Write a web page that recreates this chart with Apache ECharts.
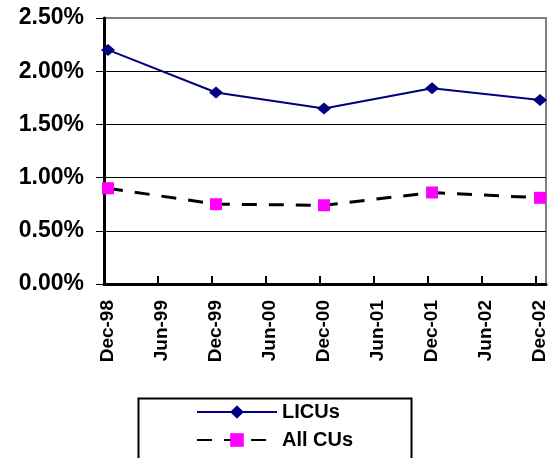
<!DOCTYPE html>
<html>
<head>
<meta charset="utf-8">
<script src="https://cdn.jsdelivr.net/npm/echarts@6/dist/echarts.min.js"></script>
<style>
  html, body { margin: 0; padding: 0; background: #fff; }
  #chart { width: 553px; height: 458px; }
</style>
</head>
<body>
<div id="chart"></div>
<script>
// Half-year tick labels along the time axis
const tickLabels = ['Dec-98', 'Jun-99', 'Dec-99', 'Jun-00', 'Dec-00', 'Jun-01', 'Dec-01', 'Jun-02', 'Dec-02'];
// Observation dates (year-end) and rates in percent
const obsDates = ['Dec-98', 'Dec-99', 'Dec-00', 'Dec-01', 'Dec-02'];
const licuRates = [2.20, 1.80, 1.65, 1.84, 1.73];
const allCuRates = [0.90, 0.75, 0.74, 0.86, 0.81];
// Value-axis ticks (percent)
const yTicks = [0, 0.5, 1.0, 1.5, 2.0, 2.5];

const FONT = 'Arial, "Liberation Sans", sans-serif';
const toPoints = vals => obsDates.map((d, i) => [tickLabels.indexOf(d), vals[i]]);
const tickShift = -0.074;

const chart = echarts.init(document.getElementById('chart'), null, { renderer: 'canvas' });
chart.setOption({
  animation: false,
  backgroundColor: '#fff',
  grid: {
    left: 104, right: 7, top: 18, bottom: 174,
    show: true, borderColor: '#808080', borderWidth: 2, backgroundColor: 'transparent'
  },
  // legend frame, open at the bottom edge of the canvas
  graphic: [{
    type: 'rect',
    left: 136, top: 396,
    shape: { width: 273, height: 80 },
    style: { fill: 'none', stroke: '#000', lineWidth: 2 },
    z: 1
  }],
  xAxis: {
    type: 'value',
    min: tickShift,
    max: 8.11,
    axisLine: { show: true, onZero: false, lineStyle: { color: '#000', width: 3 } },
    axisTick: {
      show: true, inside: true, length: 8,
      customValues: tickLabels.map((_, i) => i + tickShift),
      lineStyle: { color: '#000', width: 2 }
    },
    axisLabel: {
      customValues: tickLabels.map((_, i) => i),
      formatter: v => tickLabels[Math.round(v)],
      rotate: 90, margin: 16,
      fontFamily: FONT, fontWeight: 'bold', fontSize: 19, color: '#000'
    },
    splitLine: { show: false }
  },
  yAxis: {
    type: 'value',
    min: yTicks[0],
    max: yTicks[yTicks.length - 1],
    interval: 0.5,
    axisLine: { show: true, onZero: false, lineStyle: { color: '#000', width: 3 } },
    axisTick: { show: true, inside: false, length: 8, lineStyle: { color: '#000', width: 1 } },
    axisLabel: {
      formatter: v => v.toFixed(2) + '%',
      margin: 20,
      fontFamily: FONT, fontWeight: 'bold', fontSize: 23, color: '#000'
    },
    splitLine: {
      show: true,
      lineStyle: { color: ['#000', '#000', '#000', '#000', '#000', '#808080'], width: 1 }
    }
  },
  legend: {
    orient: 'vertical',
    left: 136, top: 396,
    itemWidth: 80, itemHeight: 17, itemGap: 8,
    padding: [6, 10, 0, 60],
    textStyle: { fontFamily: FONT, fontWeight: 'bold', fontSize: 20, color: '#000' },
    data: ['LICUs', 'All CUs']
  },
  series: [
    {
      name: 'LICUs',
      type: 'line',
      data: toPoints(licuRates),
      symbol: 'diamond',
      symbolSize: [14, 12],
      lineStyle: { color: '#000080', width: 2 },
      itemStyle: { color: '#000080' },
      z: 3
    },
    {
      name: 'All CUs',
      type: 'line',
      data: toPoints(allCuRates),
      symbol: 'rect',
      symbolSize: 12,
      lineStyle: { color: '#000', width: 3, type: [15, 12] },
      itemStyle: { color: '#ff00ff' },
      z: 2
    }
  ]
});
</script>
</body>
</html>
